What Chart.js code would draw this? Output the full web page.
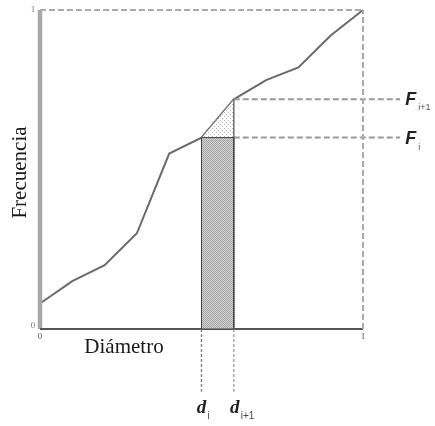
<!DOCTYPE html>
<html>
<head>
<meta charset="utf-8">
<script src="https://cdn.jsdelivr.net/npm/chart.js@4.4.1/dist/chart.umd.min.js"></script>
<style>
html,body{margin:0;padding:0;background:#fff;}
#wrap{width:435px;height:426px;position:relative;}
</style>
</head>
<body>
<div id="wrap"><canvas id="c" width="435" height="426"></canvas></div>
<script>
// ---- data ----
const diameter = [0, 0.1, 0.2, 0.3, 0.4, 0.5, 0.6, 0.7, 0.8, 0.9, 1.0];
const frequency = [0.08, 0.15, 0.2, 0.3, 0.55, 0.6, 0.72, 0.78, 0.82, 0.92, 1.0];
const di = 0.5, di1 = 0.6;
const Fi = 0.6, Fi1 = 0.72;
const xTickLabels = ["0", "1"];
const yTickLabels = ["0", "1"];
const xTitle = "Diámetro";
const yTitle = "Frecuencia";

function makePattern(kind) {
  const c = document.createElement('canvas');
  const ctx = c.getContext('2d');
  if (kind === 'check') {
    c.width = 2; c.height = 2;
    ctx.fillStyle = '#d4d4d4'; ctx.fillRect(0,0,2,2);
    ctx.fillStyle = '#a4a4a4'; ctx.fillRect(0,0,1,1); ctx.fillRect(1,1,1,1);
  } else {
    c.width = 4; c.height = 4;
    ctx.fillStyle = '#ffffff'; ctx.fillRect(0,0,4,4);
    ctx.fillStyle = '#b0b0b0'; ctx.fillRect(0,0,1,1); ctx.fillRect(2,2,1,1);
  }
  return document.getElementById('c').getContext('2d').createPattern(c, 'repeat');
}

const xEnd = 1.115, yLow = -0.197;
const dash = [6, 3];
const base = {showLine: true, pointRadius: 0, tension: 0, fill: false};

const datasets = [
  Object.assign({}, base, {label: 'rect', data: [{x: di, y: 0}, {x: di, y: Fi}, {x: di1, y: Fi}, {x: di1, y: 0}, {x: di, y: 0}],
    borderColor: '#444', borderWidth: 1, backgroundColor: makePattern('check'), fill: 'shape'}),
  Object.assign({}, base, {label: 'tri', data: [{x: di, y: Fi}, {x: di1, y: Fi1}, {x: di1, y: Fi}, {x: di, y: Fi}],
    borderColor: '#777', borderWidth: 1, backgroundColor: makePattern('dot'), fill: 'shape'}),
  Object.assign({}, base, {label: 'top', data: [{x: 0, y: 1}, {x: 1, y: 1}], borderColor: '#aaa', borderWidth: 2, borderDash: dash}),
  Object.assign({}, base, {label: 'right', data: [{x: 1, y: 0}, {x: 1, y: 1}], borderColor: '#aaa', borderWidth: 2, borderDash: dash}),
  Object.assign({}, base, {label: 'Fi', data: [{x: di1, y: Fi}, {x: xEnd, y: Fi}], borderColor: '#999', borderWidth: 2, borderDash: dash}),
  Object.assign({}, base, {label: 'Fi1', data: [{x: di1, y: Fi1}, {x: xEnd, y: Fi1}], borderColor: '#999', borderWidth: 2, borderDash: dash}),
  Object.assign({}, base, {label: 'di', data: [{x: di, y: 0}, {x: di, y: yLow}], borderColor: '#888', borderWidth: 1.5, borderDash: [3, 2]}),
  Object.assign({}, base, {label: 'di1', data: [{x: di1, y: 0}, {x: di1, y: yLow}], borderColor: '#aaa', borderWidth: 1.5, borderDash: [3, 2]}),
  Object.assign({}, base, {label: 'xaxis', data: [{x: 0, y: 0}, {x: 1, y: 0}], borderColor: '#555', borderWidth: 2}),
  Object.assign({}, base, {label: 'yaxis', data: [{x: 0, y: 0}, {x: 0, y: 1}], borderColor: '#a8a8a8', borderWidth: 4.5}),
  Object.assign({}, base, {label: 'curve', data: diameter.map((d, i) => ({x: d, y: frequency[i]})), borderColor: '#6a6a6a', borderWidth: 2})
];

const textPlugin = {
  id: 'texts',
  afterDatasetsDraw(chart) {
    const ctx = chart.ctx, xs = chart.scales.x, ys = chart.scales.y;
    const X = v => xs.getPixelForValue(v), Y = v => ys.getPixelForValue(v);
    ctx.save();
    ctx.fillStyle = '#1a1a1a';
    ctx.textBaseline = 'middle';
    ctx.textAlign = 'center';
    // axis titles
    ctx.font = '21px "Liberation Serif"';
    ctx.fillText(xTitle, X(0.26), Y(0) + 18);
    ctx.save();
    ctx.translate(X(0) - 20, Y(0.5) + 3);
    ctx.rotate(-Math.PI / 2);
    ctx.fillText(yTitle, 0, 0);
    ctx.restore();
    // tick labels
    ctx.font = '9px "Liberation Serif"';
    ctx.fillStyle = '#777';
    ctx.fillText(yTickLabels[0], X(0) - 7, Y(0) - 3);
    ctx.fillText(yTickLabels[1], X(0) - 7, Y(1));
    ctx.fillStyle = '#555';
    ctx.fillText(xTickLabels[0], X(0), Y(0) + 8);
    ctx.fillText(xTickLabels[1], X(1), Y(0) + 8);
    // F labels
    ctx.fillStyle = '#222';
    ctx.textAlign = 'left';
    ctx.font = 'italic bold 18px "Liberation Sans"';
    ctx.fillText('F', X(xEnd) + 5, Y(Fi1) + 1);
    ctx.fillText('F', X(xEnd) + 5, Y(Fi) + 1);
    ctx.font = '9px "Liberation Sans"';
    ctx.fillStyle = '#555';
    ctx.fillText('i+1', X(xEnd) + 18, Y(Fi1) + 8);
    ctx.fillText('i', X(xEnd) + 18, Y(Fi) + 10);
    // d labels
    ctx.fillStyle = '#222';
    ctx.textAlign = 'center';
    ctx.font = 'italic bold 19px "Liberation Serif"';
    ctx.fillText('d', X(di), Y(yLow) + 16);
    ctx.fillText('d', X(di1) + 1, Y(yLow) + 16);
    ctx.font = '10px "Liberation Sans"';
    ctx.fillStyle = '#444';
    ctx.textAlign = 'left';
    ctx.fillText('i', X(di) + 6, Y(yLow) + 24);
    ctx.fillText('i+1', X(di1) + 7, Y(yLow) + 24);
    ctx.restore();
  }
};

new Chart(document.getElementById('c'), {
  type: 'scatter',
  data: {datasets},
  options: {
    responsive: false,
    animation: false,
    layout: {padding: 0},
    plugins: {legend: {display: false}, tooltip: {enabled: false}},
    scales: {
      x: {type: 'linear', display: false, min: -40 / 323, max: 395 / 323},
      y: {type: 'linear', display: false, min: -97 / 319, max: 329 / 319}
    }
  },
  plugins: [textPlugin]
});
</script>
</body>
</html>
